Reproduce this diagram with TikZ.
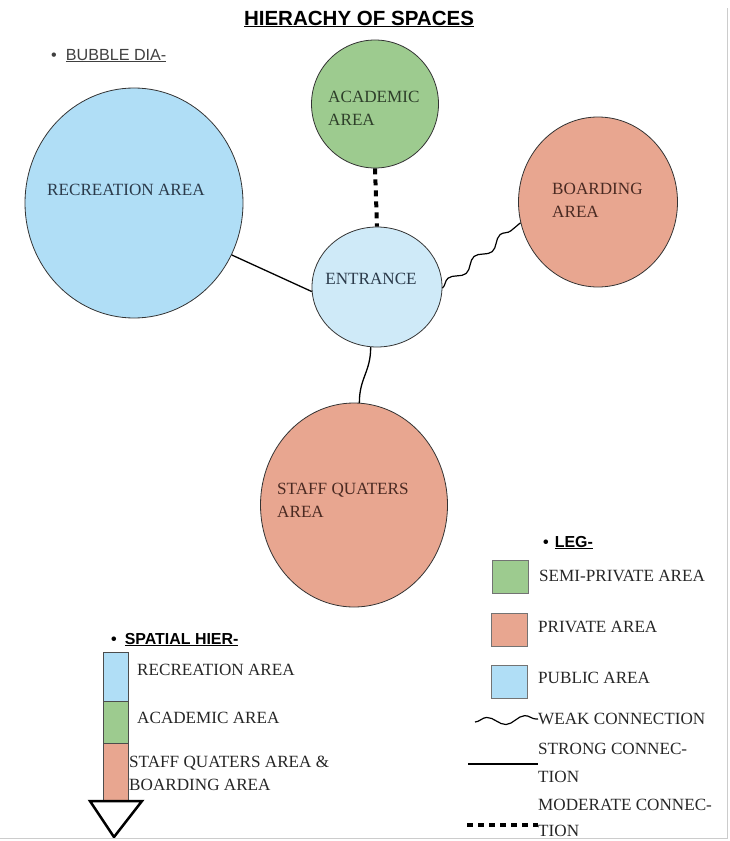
\documentclass[tikz,border=0pt]{standalone}
\usepackage{fontspec}
\setmainfont{Liberation Serif}
\setsansfont{Liberation Sans}
\usetikzlibrary{positioning,shapes.geometric,decorations.pathmorphing}
\definecolor{pubblue}{HTML}{B0DEF6}
\definecolor{entblue}{HTML}{CFEAF8}
\definecolor{semigreen}{HTML}{9DCB8F}
\definecolor{privred}{HTML}{E8A690}
\definecolor{inkblue}{HTML}{2B3A4A}
\definecolor{inkbrown}{HTML}{4A2A22}
\definecolor{inkgreen}{HTML}{2E3F2A}
\tikzset{
	bubble/.style={ellipse, draw=black!80, line width=0.8bp, inner sep=0pt},
	lbl/.style={font=\fontsize{17.2}{23}\selectfont, inner sep=0pt, align=left, text=black!85},
	head/.style={font=\sffamily\bfseries\fontsize{16}{18}\selectfont, inner sep=0pt},
	keybox/.style={draw=black!55, line width=0.6bp, minimum width=36bp, minimum height=33bp, inner sep=0pt},
	hierbar/.style={draw=black!70, line width=0.7bp, minimum width=25bp, inner sep=0pt},
	strong/.style={line width=1.3bp},
	weak/.style={line width=1.2bp, decorate, decoration={snake, segment length=34bp, amplitude=4bp}},
	moderate/.style={line width=4bp, dash pattern=on 6bp off 5bp},
}
\begin{document}
\begin{tikzpicture}[x=1bp,y=-1bp]
	\useasboundingbox (0,0) rectangle (730,841);
	%%%headings
	\node[head, font=\sffamily\bfseries\fontsize{20.6}{22}\selectfont, anchor=base] at (359,25) (title){\underline{HIERACHY OF SPACES}};
	\node[head, font=\sffamily\fontsize{16.2}{18}\selectfont, text=black!75, anchor=base west] at (51,60) (bubhead){\textbullet\hspace{9bp}\underline{BUBBLE DIA-}};
	%%%bubbles
	\node[bubble, fill=pubblue, minimum width=218bp, minimum height=230bp] at (134,203) (rec){};
	\node[bubble, fill=semigreen, minimum width=127bp, minimum height=128bp] at (375,104) (aca){};
	\node[bubble, fill=entblue, minimum width=130bp, minimum height=120bp] at (377,287) (ent){};
	\node[bubble, fill=privred, minimum width=159bp, minimum height=170bp] at (598,202) (brd){};
	\node[bubble, fill=privred, minimum width=187bp, minimum height=204bp] at (354,505) (stf){};
	%bubble texts
	\node[lbl, text=inkblue] at (126,190) (rectxt){RECREATION AREA};
	\node[lbl, text=inkgreen, anchor=west] at (328,108.5) (acatxt){ACADEMIC\\AREA};
	\node[lbl, text=inkblue] at (371,279) (enttxt){ENTRANCE};
	\node[lbl, text=inkbrown, anchor=west] at (552,200.5) (brdtxt){BOARDING\\AREA};
	\node[lbl, text=inkbrown, anchor=west] at (277,500.5) (stftxt){STAFF QUATERS\\AREA};
	%%%links
	\draw[strong] (rec.-28) -- (ent.184);
	\draw[moderate] (aca.south) -- (ent.north);
	\draw[weak] (ent.-1) -- (brd.195);
	\draw[strong] (ent.-96) .. controls +(0,25) and +(0,-25) .. (stf.87);
	%%%legend
	\node[head, anchor=base west] at (543,547) (leghead){\textbullet\hspace{6bp}\underline{LEG-}};
	\node[keybox, fill=semigreen] at (510,576.5) (ksemi){};
	\node[keybox, fill=privred] at (509,629.5) (kpriv){};
	\node[keybox, fill=pubblue] at (509,681.5) (kpub){};
	\node[lbl, anchor=west] at (539,576) (tsemi){SEMI-PRIVATE AREA};
	\node[lbl, anchor=west] at (538,627) (tpriv){PRIVATE AREA};
	\node[lbl, anchor=west] at (538,678) (tpub){PUBLIC AREA};
	\node[lbl, anchor=west] at (538,719) (tweak){WEAK CONNECTION};
	\node[lbl, anchor=west, font=\fontsize{17.2}{28}\selectfont] at (538,763) (tstrong){STRONG CONNEC-\\TION};
	\node[lbl, anchor=west, font=\fontsize{17.2}{26}\selectfont] at (538,817.5) (tmod){MODERATE CONNEC-\\TION};
	%key lines
	\coordinate (w1) at (475,722);
	\coordinate (s1) at (468,764);
	\coordinate (m1) at (467,825);
	\draw[weak, decoration={segment length=38bp, amplitude=4bp}] (w1) -- (tweak.west);
	\draw[strong] (s1) -- (s1 -| tstrong.west);
	\draw[moderate] (m1) -- (m1 -| tmod.west);
	%%%spatial hierarchy
	\node[head, anchor=base west] at (111,644) (hierhead){\textbullet\hspace{8bp}\underline{SPATIAL HIER-}};
	\node[hierbar, fill=pubblue, minimum height=49bp] at (115.5,676.5) (hrec){};
	\node[hierbar, fill=semigreen, minimum height=42bp] at (115.5,722) (haca){};
	\node[hierbar, fill=privred, minimum height=57bp] at (115.5,771.5) (hprv){};
	\draw[line width=2.5bp, fill=white, line join=miter] (90,801) -- (142,801) -- (114,837) -- cycle;
	\node[lbl, anchor=west] at (137,670) (hrectxt){RECREATION AREA};
	\node[lbl, anchor=west] at (137,718) (hacatxt){ACADEMIC AREA};
	\node[lbl, anchor=west] at (129,773.5) (hprvtxt){STAFF QUATERS AREA \&\\BOARDING AREA};
	%frame
	\draw[black!20, line width=0.8bp] (727,8) -- (727,838) -- (0,838);
\end{tikzpicture}
\end{document}
